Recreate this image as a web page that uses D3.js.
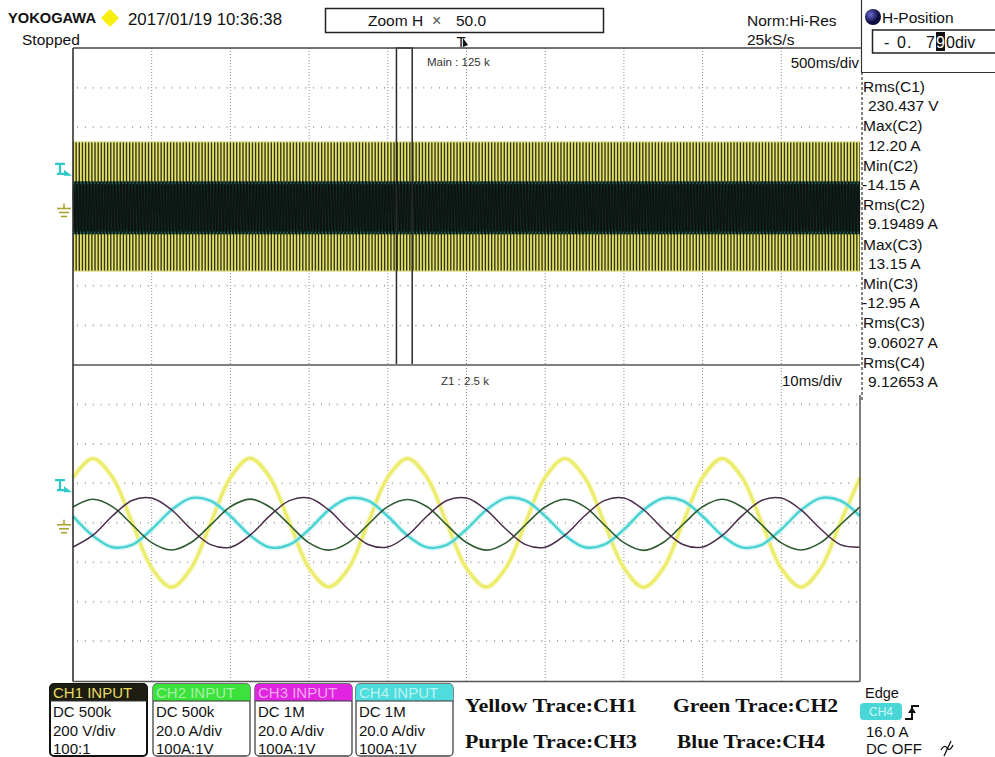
<!DOCTYPE html>
<html>
<head>
<meta charset="utf-8">
<script src="https://cdn.jsdelivr.net/npm/d3@7"></script>
<style>
  html, body { margin: 0; padding: 0; background: #ffffff; }
  svg { display: block; font-family: "Liberation Sans", Arial, sans-serif; }
</style>
</head>
<body>
<svg id="scope" width="995" height="757"></svg>
<script>
// ---- captured data: zoom window Z1, 100 ms wide, one sample every 2.5 ms ----
const zoomTimeMs = d3.range(0, 100.0001, 2.5);

// CH1 line voltage, V
const ch1Volts = [
  228, 326, 232, 2, -229, -327, -231, -1,
  229, 327, 231, 1, -230, -325, -232, 0,
  231, 326, 229, -2, -231, -326, -229, 1,
  230, 325, 231, 0, -228, -327, -231, -1,
  230, 326, 230, 2, -231, -326, -230, 0,
  229
];
// CH2 phase current, A
const ch2Amps = [
  8.0, 11.9, 8.2, -0.9, -10.1, -13.8, -10.0, -1.1,
  8.1, 12.0, 8.0, -1.0, -10.2, -13.9, -10.1, -0.9,
  8.2, 11.8, 8.1, -1.1, -10.0, -13.9, -10.2, -1.0,
  8.0, 11.9, 8.2, -1.0, -10.1, -14.0, -10.0, -0.9,
  8.1, 11.9, 8.0, -1.0, -10.2, -13.8, -10.1, -1.0,
  8.1
];
// CH3 phase current, A
const ch3Amps = [
  -12.3, -6.4, 3.4, 11.3, 12.5, 6.6, -3.2, -11.1,
  -12.4, -6.3, 3.5, 11.2, 12.6, 6.5, -3.3, -11.0,
  -12.3, -6.4, 3.4, 11.3, 12.5, 6.5, -3.2, -11.1,
  -12.4, -6.3, 3.4, 11.2, 12.6, 6.6, -3.3, -11.0,
  -12.3, -6.4, 3.5, 11.3, 12.5, 6.5, -3.2, -11.1,
  -12.4
];
// CH4 phase current, A
const ch4Amps = [
  3.3, -6.5, -12.4, -11.2, -3.3, 6.4, 12.5, 11.1,
  3.4, -6.4, -12.5, -11.1, -3.4, 6.5, 12.4, 11.2,
  3.3, -6.5, -12.5, -11.2, -3.3, 6.4, 12.5, 11.2,
  3.4, -6.4, -12.4, -11.1, -3.4, 6.5, 12.4, 11.1,
  3.3, -6.5, -12.5, -11.2, -3.3, 6.4, 12.5, 11.2,
  3.4
];

// ---- acquisition settings ----
const mainSpanMs = 5000;        // 500 ms/div x 10 div
const zoomSpanMs = 100;         // 10 ms/div x 10 div
const hPositionDiv = -0.790;    // zoom centre relative to screen centre
const triggerLevelA = 16.0;     // CH4 edge trigger

const channelNames = ["CH1", "CH2", "CH3", "CH4"];
const channelPerDiv = [200, 20.0, 20.0, 20.0];
const channelCoupling = ["DC 500k", "DC 500k", "DC 1M", "DC 1M"];
const channelScaleText = ["200 V/div", "20.0 A/div", "20.0 A/div", "20.0 A/div"];
const channelProbe = ["100:1", "100A:1V", "100A:1V", "100A:1V"];

const measureLabels = ["Rms(C1)", "Max(C2)", "Min(C2)", "Rms(C2)", "Max(C3)", "Min(C3)", "Rms(C3)", "Rms(C4)"];
const measureValues = ["230.437 V", "12.20 A", "-14.15 A", "9.19489 A", "13.15 A", "-12.95 A", "9.06027 A", "9.12653 A"];

const legendLabels = ["Yellow Trace:CH1", "Green Trace:CH2", "Purple Trace:CH3", "Blue Trace:CH4"];

// ---- layout ----
const plotLeft = 73, plotRight = 860;
const mainTop = 48, splitY = 365, zoomBottom = 680.5;

const svg = d3.select("#scope");

const xMain = d3.scaleLinear().domain([0, mainSpanMs]).range([plotLeft, plotRight]);
const xZoom = d3.scaleLinear().domain([0, zoomSpanMs]).range([plotLeft, plotRight]);
const yMain = d3.scaleLinear().domain([-4, 4]).range([splitY, mainTop]);
const yZoom = d3.scaleLinear().domain([-4, 4]).range([zoomBottom, splitY]);

const traces = [
  { data: ch1Volts, perDiv: channelPerDiv[0], color: "#ecec6e", glow: "#f7f7c4", width: 3.4 },
  { data: ch2Amps,  perDiv: channelPerDiv[1], color: "#2f5a30", glow: null,      width: 1.6 },
  { data: ch3Amps,  perDiv: channelPerDiv[2], color: "#4a2c4c", glow: null,      width: 1.5 },
  { data: ch4Amps,  perDiv: channelPerDiv[3], color: "#48d2d2", glow: "#b8eeee", width: 2.4 }
];

// ---- graticule ----
function graticule(top, bottom, yScale) {
  const g = svg.append("g");
  g.selectAll("line.v").data(d3.range(1, 10)).join("line")
    .attr("x1", d => xZoom(d * 10)).attr("x2", d => xZoom(d * 10))
    .attr("y1", top).attr("y2", bottom)
    .attr("stroke", "#8c8c8c").attr("stroke-width", 1)
    .attr("stroke-dasharray", "1,2");
  g.selectAll("line.h").data(d3.range(-3, 4)).join("line")
    .attr("x1", plotLeft + 4).attr("x2", plotRight)
    .attr("y1", d => yScale(d)).attr("y2", d => yScale(d))
    .attr("stroke", "#a8a8a8").attr("stroke-width", 2)
    .attr("stroke-dasharray", "1,6.87");
}
graticule(mainTop, splitY, yMain);
graticule(splitY, zoomBottom, yZoom);

// ---- main window: 5 s record, tiled from the captured 50 Hz cycles ----
const zoomCenterMs = mainSpanMs / 2 + hPositionDiv * (mainSpanMs / 10);
const zoomStartMs = zoomCenterMs - zoomSpanMs / 2;
const zoomEndMs = zoomCenterMs + zoomSpanMs / 2;
const samplesPerWindow = zoomTimeMs.length - 1;
const sampleMs = zoomTimeMs[1] - zoomTimeMs[0];
const startIndex = Math.round(zoomStartMs / sampleMs);
const mainTimes = d3.range(0, mainSpanMs + 0.001, sampleMs);

function mainSeries(tr) {
  return mainTimes.map((t, i) => {
    const k = (((i - startIndex) % samplesPerWindow) + samplesPerWindow) % samplesPerWindow;
    return { t, v: tr.data[k] / tr.perDiv };
  });
}

const mainG = svg.append("g");

// CH1 envelope: min/max per 20 ms bucket, drawn as vertical strokes
const ch1Main = mainSeries(traces[0]);
const ch1Ext = d3.extent(ch1Main, d => d.v);
mainG.append("rect")
  .attr("x", plotLeft).attr("width", plotRight - plotLeft)
  .attr("y", yMain(ch1Ext[1])).attr("height", yMain(ch1Ext[0]) - yMain(ch1Ext[1]))
  .attr("fill", "#33331a");
const buckets = d3.rollups(ch1Main, v => d3.extent(v, d => d.v), d => Math.floor(d.t / 20));
mainG.selectAll("line.env").data(buckets).join("line")
  .attr("x1", d => xMain(d[0] * 20 + 10)).attr("x2", d => xMain(d[0] * 20 + 10))
  .attr("y1", d => yMain(d[1][1])).attr("y2", d => yMain(d[1][0]))
  .attr("stroke", "#e4e46a").attr("stroke-width", 1.8);
// pale edges of the compressed CH1 trace
[ch1Ext[1], ch1Ext[0]].forEach(v => {
  mainG.append("line")
    .attr("x1", plotLeft).attr("x2", plotRight)
    .attr("y1", yMain(v)).attr("y2", yMain(v))
    .attr("stroke", "#f4f4a4").attr("stroke-width", 1.4).attr("opacity", 0.7);
});

// current traces, densely overlapped
const currentMain = [1, 2, 3].map(c => mainSeries(traces[c]));
const curExt = d3.extent(currentMain.flat(), d => d.v);
mainG.append("rect")
  .attr("x", plotLeft).attr("width", plotRight - plotLeft)
  .attr("y", yMain(curExt[1])).attr("height", yMain(curExt[0]) - yMain(curExt[1]))
  .attr("fill", "#040c08");
const mainLine = d3.line().x(d => xMain(d.t)).y(d => yMain(d.v));
const mainColors = [["#163c1e", 0.8], ["#140a16", 0.9], ["#2e9a98", 0.16]];
[2, 0, 1].forEach(c => {
  mainG.append("path")
    .attr("d", mainLine(currentMain[c]))
    .attr("fill", "none")
    .attr("stroke", mainColors[c][0]).attr("stroke-opacity", mainColors[c][1])
    .attr("stroke-width", 0.7);
});
// teal fringe where the current peaks bunch together
[curExt[1], curExt[0]].forEach(v => {
  mainG.append("line")
    .attr("x1", plotLeft).attr("x2", plotRight)
    .attr("y1", yMain(v) + (v > 0 ? 1.5 : -1.5)).attr("y2", yMain(v) + (v > 0 ? 1.5 : -1.5))
    .attr("stroke", "#2f8f86").attr("stroke-width", 2.5).attr("stroke-opacity", 0.55)
    .attr("stroke-dasharray", "1.5,2");
});

// zoom window outline
svg.append("rect")
  .attr("x", xMain(zoomStartMs)).attr("y", mainTop)
  .attr("width", xMain(zoomEndMs) - xMain(zoomStartMs)).attr("height", splitY - mainTop)
  .attr("fill", "none").attr("stroke", "#2a2a2a").attr("stroke-width", 1.5);

// ---- zoom window Z1 traces ----
const zoomG = svg.append("g");
const zoomLine = d3.line()
  .x((d, i) => xZoom(zoomTimeMs[i]))
  .y(d => d)
  .curve(d3.curveCatmullRom.alpha(0.5));
[0, 3, 1, 2].forEach(c => {
  const tr = traces[c];
  const ys = tr.data.map(v => yZoom(v / tr.perDiv));
  if (tr.glow) {
    zoomG.append("path").attr("d", zoomLine(ys)).attr("fill", "none")
      .attr("stroke", tr.glow).attr("stroke-width", tr.width + 3).attr("stroke-opacity", 0.55)
      .attr("stroke-linejoin", "round");
  }
  zoomG.append("path").attr("d", zoomLine(ys)).attr("fill", "none")
    .attr("stroke", tr.color).attr("stroke-width", tr.width)
    .attr("stroke-linejoin", "round");
});

// ---- frames ----
const frame = svg.append("g").attr("fill", "none");
frame.append("line").attr("x1", plotLeft).attr("x2", 862).attr("y1", mainTop).attr("y2", mainTop)
  .attr("stroke", "#444").attr("stroke-width", 1.5);
frame.append("line").attr("x1", plotLeft).attr("x2", plotRight).attr("y1", splitY).attr("y2", splitY)
  .attr("stroke", "#808080").attr("stroke-width", 2);
frame.append("line").attr("x1", plotLeft).attr("x2", plotRight).attr("y1", zoomBottom + 1).attr("y2", zoomBottom + 1)
  .attr("stroke", "#555").attr("stroke-width", 1.5);
frame.append("line").attr("x1", plotLeft).attr("x2", plotLeft).attr("y1", mainTop).attr("y2", zoomBottom + 1)
  .attr("stroke", "#333").attr("stroke-width", 1.6);
frame.append("line").attr("x1", plotRight).attr("x2", plotRight).attr("y1", 395).attr("y2", zoomBottom + 1)
  .attr("stroke", "#555").attr("stroke-width", 1.5);
frame.append("line").attr("x1", 862).attr("x2", 862).attr("y1", 72).attr("y2", 400)
  .attr("stroke", "#333").attr("stroke-width", 1.2).attr("stroke-dasharray", "3,2");
frame.append("line").attr("x1", 861.5).attr("x2", 861.5).attr("y1", 0).attr("y2", 73)
  .attr("stroke", "#333").attr("stroke-width", 1.2);
frame.append("line").attr("x1", 861).attr("x2", 995).attr("y1", 72.5).attr("y2", 72.5)
  .attr("stroke", "#333").attr("stroke-width", 1.2);

// ---- level markers (ground of CH1, trigger level of CH4) ----
function groundMark(y0) {
  const g = svg.append("g").attr("stroke", "#aaa42c").attr("stroke-width", 1.6);
  g.append("line").attr("x1", 64).attr("x2", 64).attr("y1", y0 - 3).attr("y2", y0 + 2);
  g.append("line").attr("x1", 57).attr("x2", 71).attr("y1", y0 + 2).attr("y2", y0 + 2);
  g.append("line").attr("x1", 59).attr("x2", 69).attr("y1", y0 + 6).attr("y2", y0 + 6);
  g.append("line").attr("x1", 61).attr("x2", 67).attr("y1", y0 + 10).attr("y2", y0 + 10);
}
function trigMark(y0) {
  const g = svg.append("g");
  g.append("path")
    .attr("d", `M55,${y0 - 11} h10 M60,${y0 - 11} v10 M57,${y0 - 1} h8`)
    .attr("stroke", "#2ec8c8").attr("stroke-width", 2.2).attr("fill", "none");
  g.append("path")
    .attr("d", `M64,${y0 - 5} L72,${y0 + 1} L64,${y0 + 1} Z`)
    .attr("fill", "#2ec8c8");
}
groundMark(yMain(0));
groundMark(yZoom(0));
trigMark(yMain(triggerLevelA / channelPerDiv[3]));
trigMark(yZoom(triggerLevelA / channelPerDiv[3]));

// ---- header ----
const txt = (x, y, s, size, opts = {}) => {
  const t = svg.append("text").attr("x", x).attr("y", y).text(s)
    .attr("font-size", size).attr("fill", opts.fill || "#111");
  if (opts.weight) t.attr("font-weight", opts.weight);
  if (opts.anchor) t.attr("text-anchor", opts.anchor);
  if (opts.family) t.attr("font-family", opts.family);
  if (opts.len) t.attr("textLength", opts.len).attr("lengthAdjust", "spacingAndGlyphs");
  return t;
};

txt(8, 23, "YOKOGAWA", 15, { weight: "bold", len: 88 });
svg.append("path").attr("d", "M110,9 L119,18 L110,27 L101,18 Z").attr("fill", "#f8ee10");
txt(128, 25, "2017/01/19 10:36:38", 16.5, { len: 154 });
txt(22, 45, "Stopped", 15.5);

svg.append("rect").attr("x", 325.5).attr("y", 8.5).attr("width", 278).attr("height", 24)
  .attr("fill", "#fff").attr("stroke", "#222").attr("stroke-width", 1.5);
txt(368, 26, "Zoom H", 15.5);
txt(432, 26, "\u00d7", 16, { fill: "#555" });
txt(456, 26, "50.0", 15.5);

// trigger position mark
txt(461, 47, "T", 15, { anchor: "middle" });
svg.append("path").attr("d", "M463,38 L468,45 L463,47 Z").attr("fill", "#111");

txt(747, 26, "Norm:Hi-Res", 15.5);
txt(747, 45, "25kS/s", 15.5);

// H-Position panel
const hg = svg.append("defs").append("radialGradient").attr("id", "knob").attr("cx", "35%").attr("cy", "35%");
hg.append("stop").attr("offset", "0%").attr("stop-color", "#6a6ad0");
hg.append("stop").attr("offset", "100%").attr("stop-color", "#0c0c40");
svg.append("circle").attr("cx", 873).attr("cy", 17).attr("r", 8).attr("fill", "url(#knob)");
txt(882, 23, "H-Position", 15.5);
svg.append("rect").attr("x", 872.5).attr("y", 30).attr("width", 130).attr("height", 23)
  .attr("fill", "#fff").attr("stroke", "#222").attr("stroke-width", 1.5);
const hpText = d3.format(".3f")(hPositionDiv);      // "-0.790"
const hpChars = ["-", hpText[1], ".", hpText[3]];
[884, 897, 907, 926].forEach((x, i) => txt(x, 48, hpChars[i], 16));
svg.append("rect").attr("x", 936).attr("y", 32).attr("width", 9).attr("height", 19).attr("fill", "#111");
txt(940.5, 48, hpText.slice(4, 5), 16, { anchor: "middle", fill: "#fff" });
txt(946, 48, hpText.slice(5) + "div", 16);

// panel labels
txt(427, 66, "Main : " + d3.format("d")(mainSpanMs / 1000 * 25) + " k", 11.5, { fill: "#333" });
txt(859, 68, (mainSpanMs / 10) + "ms/div", 15, { anchor: "end" });
txt(441, 385, "Z1 : " + (zoomSpanMs / 1000 * 25) + " k", 11.5, { fill: "#333" });
txt(782, 386, (zoomSpanMs / 10) + "ms/div", 15);

// ---- measurement list ----
measureLabels.forEach((lab, i) => {
  const y0 = 92 + i * 39.4;
  txt(863, y0, lab, 15.5);
  const val = measureValues[i];
  txt(val.startsWith("-") ? 862 : 868, y0 + 19.2, val, 15.5);
});

// ---- channel boxes ----
const boxX = [50, 153, 255, 356];
const headFill = ["#1e1d12", "#3ce23c", "#e024e0", "#4edcdc"];
const headText = ["#e8dc64", "#a6f0a6", "#f2a8f2", "#bcf4f4"];
channelNames.forEach((nm, i) => {
  const g = svg.append("g");
  const x0 = boxX[i], w = 97;
  g.append("rect").attr("x", x0).attr("y", 684).attr("width", w).attr("height", 72).attr("rx", 4)
    .attr("fill", "#fff").attr("stroke", i === 0 ? "#111" : "#444").attr("stroke-width", i === 0 ? 2 : 1.3);
  g.append("path")
    .attr("d", `M${x0},${701} V${688} a4,4 0 0 1 4,-4 H${x0 + w - 4} a4,4 0 0 1 4,4 V${701} Z`)
    .attr("fill", headFill[i]);
  g.append("line").attr("x1", x0).attr("x2", x0 + w).attr("y1", 701).attr("y2", 701)
    .attr("stroke", "#333").attr("stroke-width", 1);
  g.append("text").attr("x", x0 + 3).attr("y", 698).text(nm + " INPUT")
    .attr("font-size", 15).attr("fill", headText[i]);
  g.append("text").attr("x", x0 + 3).attr("y", 717).text(channelCoupling[i]).attr("font-size", 15).attr("fill", "#111");
  g.append("text").attr("x", x0 + 3).attr("y", 736).text(channelScaleText[i]).attr("font-size", 15).attr("fill", "#111");
  g.append("text").attr("x", x0 + 3).attr("y", 754).text(channelProbe[i]).attr("font-size", 15).attr("fill", "#111");
});

// ---- trace legend ----
const legPos = [[465, 712], [673, 712], [465, 748], [677, 748]];
const legLen = [172, 165, 172, 148];
legendLabels.forEach((s, i) => {
  txt(legPos[i][0], legPos[i][1], s, 19.5, {
    weight: "bold", family: "'Liberation Serif', 'Times New Roman', serif", len: legLen[i]
  });
});

// ---- trigger settings ----
txt(865, 698, "Edge", 14.5);
svg.append("rect").attr("x", 860).attr("y", 703).attr("width", 42).attr("height", 17).attr("rx", 4).attr("fill", "#48d6d6");
txt(881, 716, channelNames[3], 12, { anchor: "middle", fill: "#c8f8f8" });
svg.append("path").attr("d", "M905,719 H912 V706 H919").attr("fill", "none").attr("stroke", "#111").attr("stroke-width", 2);
svg.append("path").attr("d", "M908,713 L912,707 L916,713 Z").attr("fill", "#111");
txt(866, 737, d3.format(".1f")(triggerLevelA) + " A", 15);
txt(866, 754, "DC OFF", 15);
svg.append("path").attr("d", "M941,750 q3,-6 6,-2 t6,-3 M944,756 L951,741").attr("fill", "none")
  .attr("stroke", "#111").attr("stroke-width", 1.3);
</script>
</body>
</html>
